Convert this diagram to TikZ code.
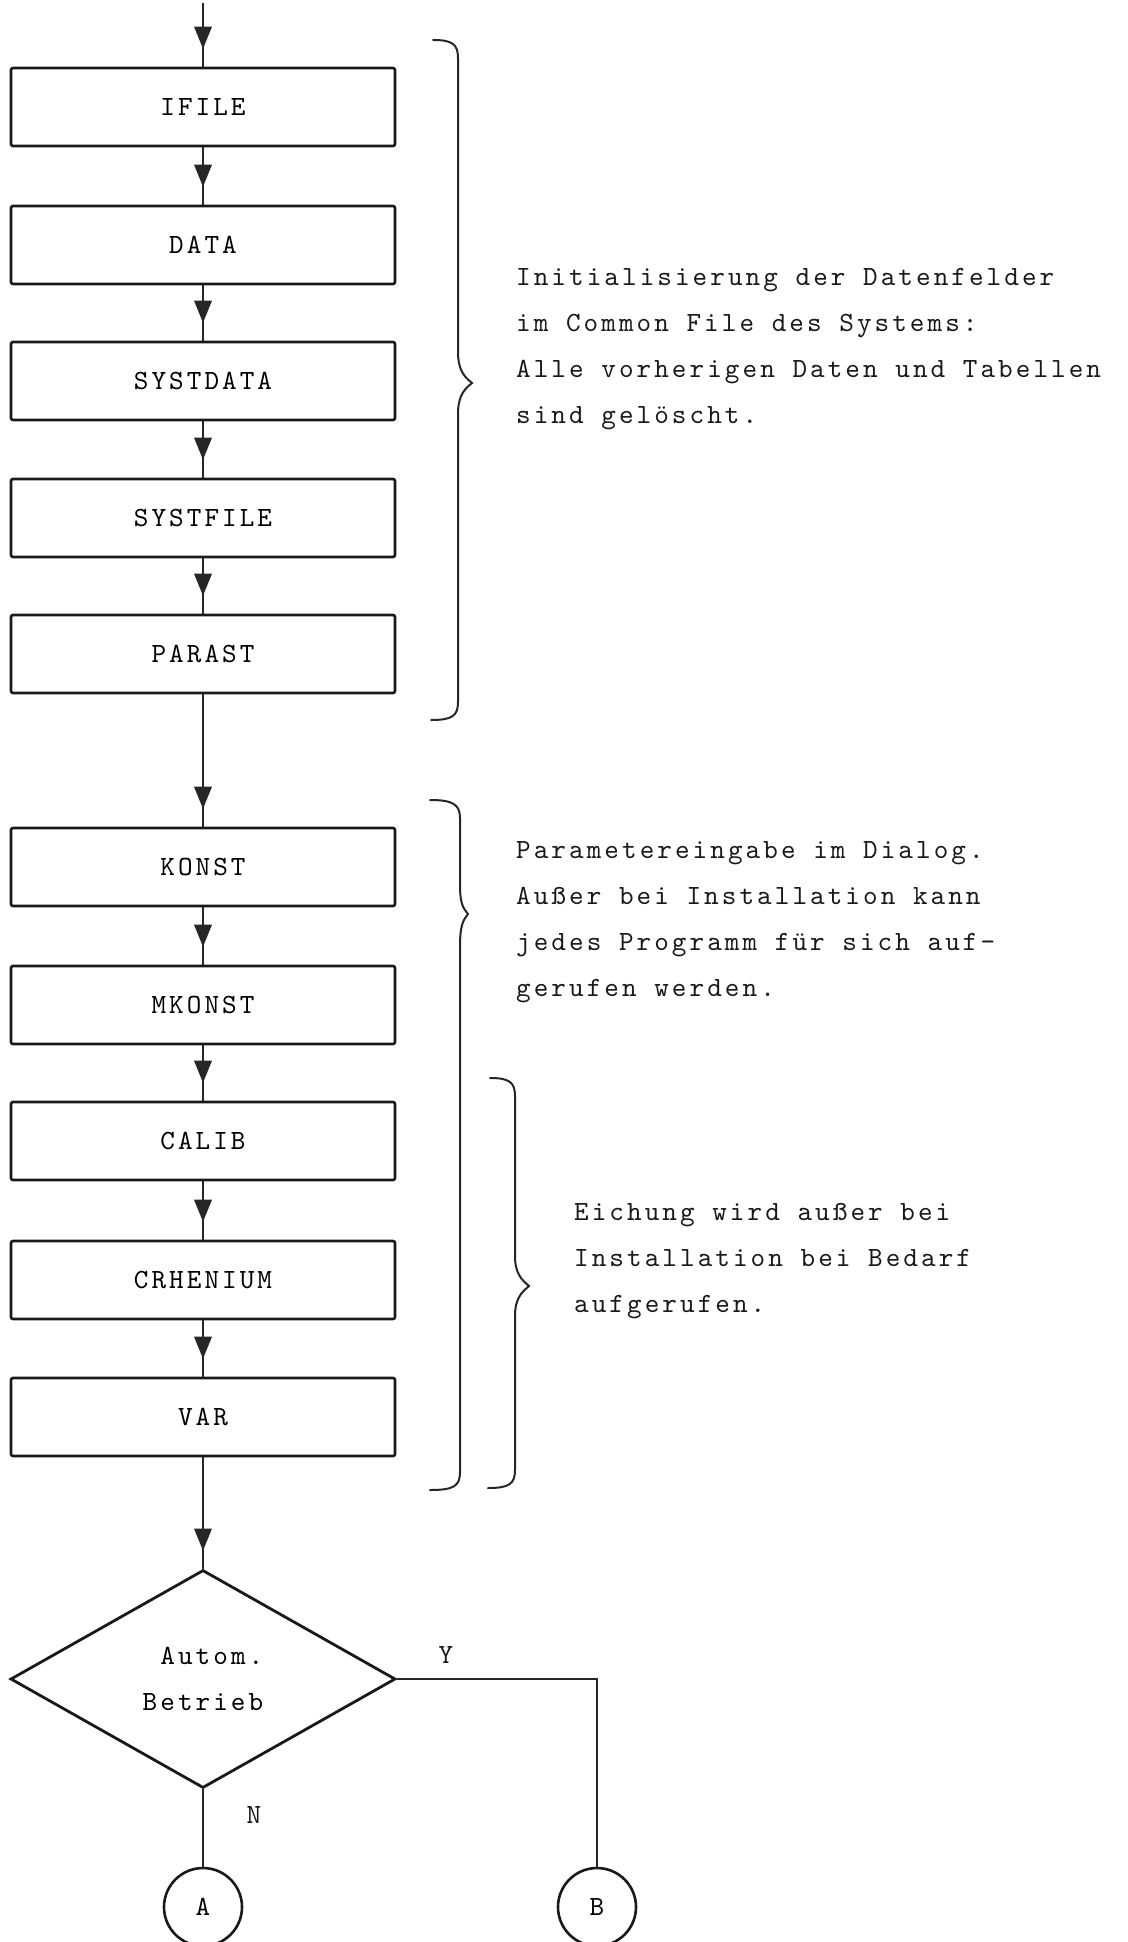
\documentclass[tikz,border=0pt]{standalone}
\usepackage{fontspec}
\usetikzlibrary{shapes.geometric,decorations.markings}
% typewriter face, spaced out to a wide pica pitch
\newfontfamily\tw[LetterSpace=11]{lmmono10-regular.otf}
\newcommand{\twsize}{\tw\fontsize{27.8}{46}\selectfont}

\begin{document}
\begin{tikzpicture}[x=1pt,y=-1pt,
  prog/.style={draw=black!90, line width=2.6pt, rectangle, rounded corners=2pt,
    minimum width=384pt, minimum height=78pt, inner sep=0pt, font=\twsize},
  decide/.style={draw=black!90, line width=2.8pt, diamond, minimum width=385pt,
    minimum height=218pt, inner sep=0pt, align=right, font=\twsize},
  conn/.style={draw=black!90, line width=2.6pt, circle, minimum size=78pt,
    inner sep=0pt, font=\twsize},
  note/.style={anchor=west, align=left, inner sep=0pt, font=\twsize, text=black!90},
  lbl/.style={inner sep=0pt, font=\twsize, text=black!90},
  flow/.style={draw=black!85, line width=1.4pt,
    postaction={decorate, decoration={markings,
      mark=at position -18pt with {\fill[black!85] (0pt,0pt) -- (-22pt,9pt) -- (-22pt,-9pt) -- cycle;}}}},
  line/.style={draw=black!85, line width=1.4pt},
  bracket/.style={draw=black!85, line width=2pt, line cap=round}]

\useasboundingbox (0,0) rectangle (1127,1942);

% program blocks
\node[prog] (ifile)    at (203,107)  {IFILE};
\node[prog] (data)     at (203,245)  {DATA};
\node[prog] (systdata) at (203,381)  {SYSTDATA};
\node[prog] (systfile) at (203,518)  {SYSTFILE};
\node[prog] (parast)   at (203,654)  {PARAST};
\node[prog] (konst)    at (203,867)  {KONST};
\node[prog] (mkonst)   at (203,1005) {MKONST};
\node[prog] (calib)    at (203,1141) {CALIB};
\node[prog] (crhen)    at (203,1280) {CRHENIUM};
\node[prog] (var)      at (203,1417) {VAR};

% decision and connectors
\node[decide] (auto) at (203,1679) {Autom.\\Betrieb};
\node[conn] (ca) at (203,1907) {A};
\node[conn] (cb) at (597,1907) {B};
\coordinate (entry) at (203,3);
\coordinate (ycorner) at (597,1679);

% flow lines
\path[flow] (entry) -- (ifile.north);
\path[flow] (ifile.south) -- (data.north);
\path[flow] (data.south) -- (systdata.north);
\path[flow] (systdata.south) -- (systfile.north);
\path[flow] (systfile.south) -- (parast.north);
\path[flow] (parast.south) -- (konst.north);
\path[flow] (konst.south) -- (mkonst.north);
\path[flow] (mkonst.south) -- (calib.north);
\path[flow] (calib.south) -- (crhen.north);
\path[flow] (crhen.south) -- (var.north);
\path[flow] (var.south) -- (auto.north);
\path[line] (auto.south) -- (ca.north);
\path[line] (auto.east) -- (ycorner) -- (cb.north);

\node[lbl] (ylbl) at (446,1655) {Y};
\node[lbl] (nlbl) at (254,1815) {N};

% braces
\draw[bracket] (433,40) .. controls (452,40) and (458,44) .. (458,58)
  -- (458,352) .. controls (458,372) and (466,378) .. (472,383)
  .. controls (466,388) and (458,394) .. (458,414)
  -- (458,702) .. controls (458,716) and (452,720) .. (431,720);
\draw[bracket] (430,800) .. controls (452,800) and (460,804) .. (460,818)
  -- (460,884) .. controls (460,904) and (463,908) .. (468,914)
  .. controls (463,920) and (460,926) .. (460,946)
  -- (460,1472) .. controls (460,1486) and (454,1490) .. (430,1490);
\draw[bracket] (490,1078) .. controls (509,1078) and (515,1082) .. (515,1096)
  -- (515,1256) .. controls (515,1274) and (522,1280) .. (529,1286)
  .. controls (522,1292) and (515,1298) .. (515,1316)
  -- (515,1470) .. controls (515,1484) and (509,1488) .. (488,1488);

% annotations
\node[note] (n1) at (516,349) {Initialisierung der Datenfelder\\im Common File des Systems:\\Alle vorherigen Daten und Tabellen\\sind gelöscht.};
\node[note] (n2) at (516,922) {Parametereingabe im Dialog.\\Außer bei Installation kann\\jedes Programm für sich auf-\\gerufen werden.};
\node[note] (n3) at (574,1261) {Eichung wird außer bei\\Installation bei Bedarf\\aufgerufen.};

\end{tikzpicture}
\end{document}
